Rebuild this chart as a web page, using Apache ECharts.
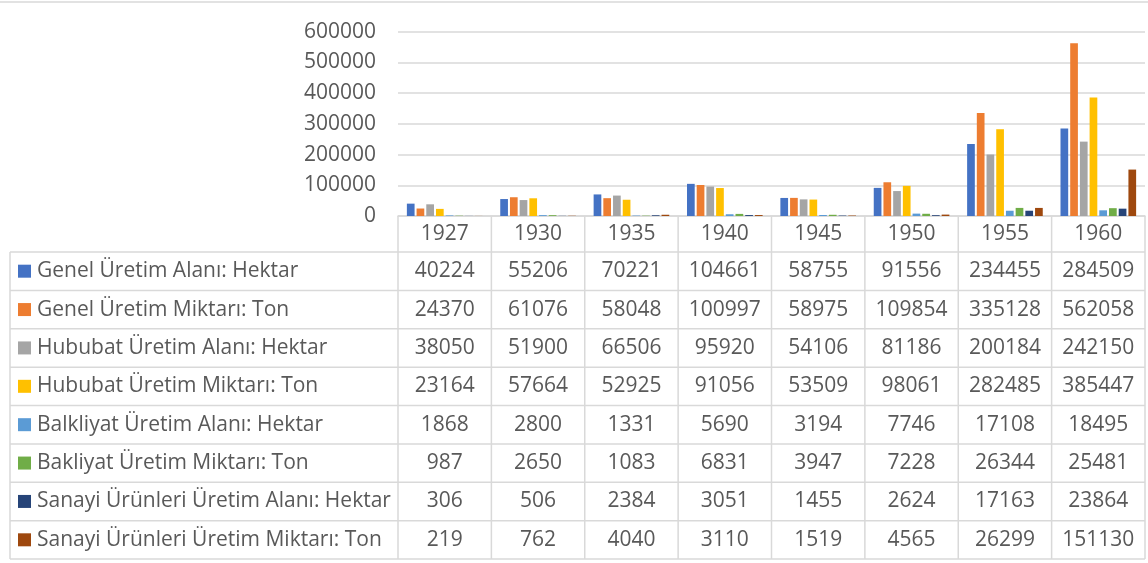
<!DOCTYPE html>
<html><head><meta charset="utf-8">
<script src="https://cdn.jsdelivr.net/npm/echarts@6/dist/echarts.min.js"></script>
<style>html,body{margin:0;padding:0;background:#fff}#c{width:1148px;height:563px}</style>
</head><body><div id="c"></div>
<script>
const years = ['1927','1930','1935','1940','1945','1950','1955','1960'];
const seriesNames = [
  'Genel Üretim Alanı: Hektar',
  'Genel Üretim Miktarı: Ton',
  'Hububat Üretim Alanı: Hektar',
  'Hububat Üretim Miktarı: Ton',
  'Balkliyat Üretim Alanı: Hektar',
  'Bakliyat Üretim Miktarı: Ton',
  'Sanayi Ürünleri Üretim Alanı: Hektar',
  'Sanayi Ürünleri Üretim Miktarı: Ton'
];
const genelAlan     = [40224, 55206, 70221, 104661, 58755, 91556, 234455, 284509];
const genelMiktar   = [24370, 61076, 58048, 100997, 58975, 109854, 335128, 562058];
const hububatAlan   = [38050, 51900, 66506, 95920, 54106, 81186, 200184, 242150];
const hububatMiktar = [23164, 57664, 52925, 91056, 53509, 98061, 282485, 385447];
const bakliyatAlan  = [1868, 2800, 1331, 5690, 3194, 7746, 17108, 18495];
const bakliyatMiktar= [987, 2650, 1083, 6831, 3947, 7228, 26344, 25481];
const sanayiAlan    = [306, 506, 2384, 3051, 1455, 2624, 17163, 23864];
const sanayiMiktar  = [219, 762, 4040, 3110, 1519, 4565, 26299, 151130];
const yMin = 0, yMax = 600000, yStep = 100000;

const allData = [genelAlan, genelMiktar, hububatAlan, hububatMiktar, bakliyatAlan, bakliyatMiktar, sanayiAlan, sanayiMiktar];
const colors = ['#4472C4','#ED7D31','#A5A5A5','#FFC000','#5B9BD5','#70AD47','#264478','#9E480E'];

const FONT = "'Open Sans', sans-serif";
const TXT = '#595959', LINE = '#d9d9d9';
const L = 10, X0 = 398, X1 = 1145, HT = 216, H0 = 252, H1 = 559;
const colW = (X1 - X0) / years.length;
const rowH = (H1 - H0) / seriesNames.length;

const g = [];
g.push({type:'line', silent:true, shape:{x1:0,y1:2,x2:1148,y2:2}, style:{stroke:LINE,lineWidth:1.5}});
for (let i = 0; i <= seriesNames.length; i++) {
  const y = H0 + i * rowH;
  g.push({type:'line', silent:true, shape:{x1:L,y1:y,x2:X1,y2:y}, style:{stroke:LINE,lineWidth:1.5}});
}
g.push({type:'line', silent:true, shape:{x1:L,y1:H0,x2:L,y2:H1}, style:{stroke:LINE,lineWidth:1.5}});
for (let k = 0; k <= years.length; k++) {
  const x = X0 + k * colW;
  g.push({type:'line', silent:true, shape:{x1:x,y1:HT,x2:x,y2:H1}, style:{stroke:LINE,lineWidth:1.5}});
}
years.forEach((yr, k) => {
  g.push({type:'text', silent:true, x: X0 + (k + 0.5) * colW, y: (HT + H0) / 2,
    style:{text: yr, fill: TXT, font: '21px ' + FONT, textAlign:'center', textVerticalAlign:'middle'}});
});
seriesNames.forEach((name, i) => {
  const cy = H0 + (i + 0.5) * rowH;
  g.push({type:'rect', silent:true, shape:{x:18, y:cy - 6.5, width:13, height:13}, style:{fill: colors[i]}});
  g.push({type:'text', silent:true, x: 37, y: cy,
    style:{text: name, fill: TXT, font: '21px ' + FONT, textAlign:'left', textVerticalAlign:'middle'}});
  allData[i].forEach((v, k) => {
    g.push({type:'text', silent:true, x: X0 + (k + 0.5) * colW, y: cy,
      style:{text: String(v), fill: TXT, font: '21px ' + FONT, textAlign:'center', textVerticalAlign:'middle'}});
  });
});

const chart = echarts.init(document.getElementById('c'), null, {renderer:'canvas'});
chart.setOption({
  animation: false,
  backgroundColor: '#fff',
  color: colors,
  grid: {left: X0, right: 1148 - X1, top: 31.7, bottom: 563 - HT, containLabel: false},
  xAxis: {
    type: 'category', data: years,
    axisLine: {show: true, lineStyle: {color: LINE, width: 1.5}},
    axisTick: {show: false}, axisLabel: {show: false}
  },
  yAxis: {
    type: 'value', min: yMin, max: yMax, interval: yStep,
    axisLine: {show: false}, axisTick: {show: false},
    splitLine: {lineStyle: {color: LINE, width: 1.5}},
    axisLabel: {color: TXT, fontSize: 21, fontFamily: FONT, margin: 22, formatter: v => String(v)}
  },
  series: seriesNames.map((n, i) => ({
    name: n, type: 'bar', data: allData[i],
    barGap: '26%', barCategoryGap: '19%'
  })),
  graphic: g
});
</script></body></html>
